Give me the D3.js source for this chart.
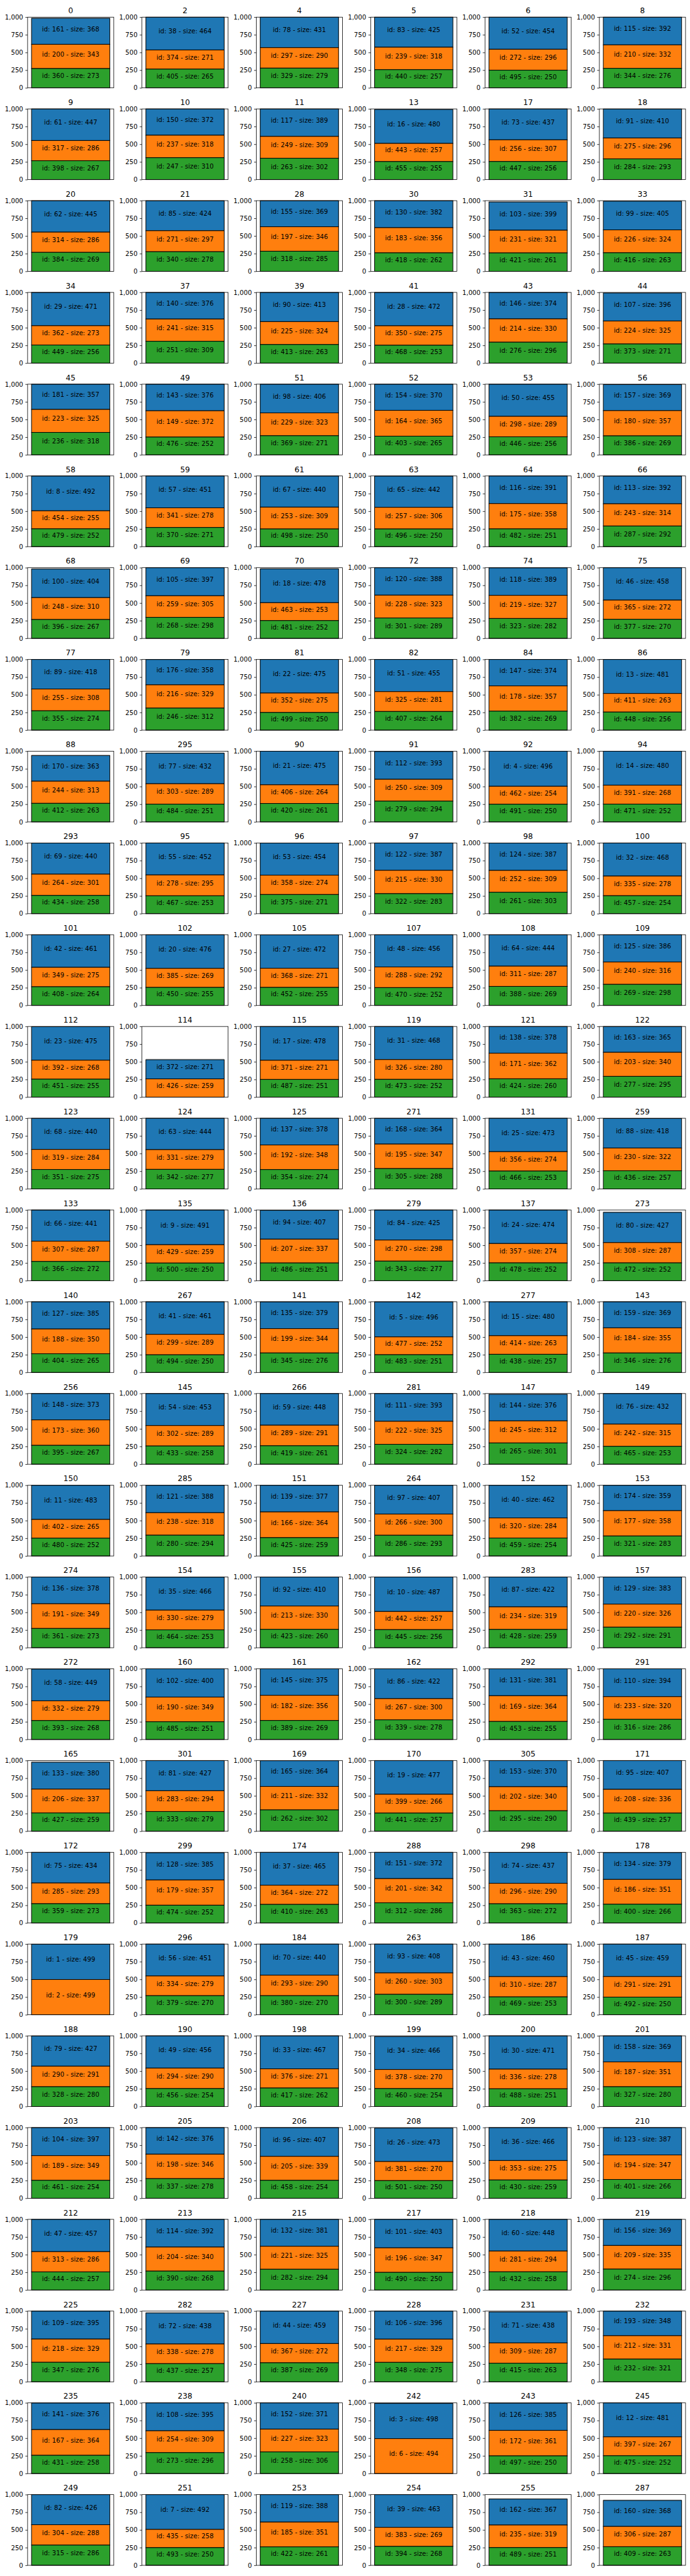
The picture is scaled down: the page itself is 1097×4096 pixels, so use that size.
<!DOCTYPE html>
<html><head><meta charset="utf-8">
<script src="https://cdn.jsdelivr.net/npm/d3@7"></script>
<style>body{margin:0;background:#fff}svg{display:block}</style></head>
<body><script>
const panelTitles = [0,2,4,5,6,8, 9,10,11,13,17,18, 20,21,28,30,31,33, 34,37,39,41,43,44, 45,49,51,52,53,56, 58,59,61,63,64,66, 68,69,70,72,74,75, 77,79,81,82,84,86, 88,295,90,91,92,94, 293,95,96,97,98,100, 101,102,105,107,108,109, 112,114,115,119,121,122, 123,124,125,271,131,259, 133,135,136,279,137,273, 140,267,141,142,277,143, 256,145,266,281,147,149, 150,285,151,264,152,153, 274,154,155,156,283,157, 272,160,161,162,292,291, 165,301,169,170,305,171, 172,299,174,288,298,178, 179,296,184,263,186,187, 188,190,198,199,200,201, 203,205,206,208,209,210, 212,213,215,217,218,219, 225,282,227,228,231,232, 235,238,240,242,243,245, 249,251,253,254,255,287];

const blockIds = [
[161,200,360],[38,374,405],[78,297,329],[83,239,440],[52,272,495],[115,210,344],
[61,317,398],[150,237,247],[117,249,263],[16,443,455],[73,256,447],[91,275,284],
[62,314,384],[85,271,340],[155,197,318],[130,183,418],[103,231,421],[99,226,416],
[29,362,449],[140,241,251],[90,225,413],[28,350,468],[146,214,276],[107,224,373],
[181,223,236],[143,149,476],[98,229,369],[154,164,403],[50,298,446],[157,180,386],
[8,454,479],[57,341,370],[67,253,498],[65,257,496],[116,175,482],[113,243,287],
[100,248,396],[105,259,268],[18,463,481],[120,228,301],[118,219,323],[46,365,377],
[89,255,355],[176,216,246],[22,352,499],[51,325,407],[147,178,382],[13,411,448],
[170,244,412],[77,303,484],[21,406,420],[112,250,279],[4,462,491],[14,391,471],
[69,264,434],[55,278,467],[53,358,375],[122,215,322],[124,252,261],[32,335,457],
[42,349,408],[20,385,450],[27,368,452],[48,288,470],[64,311,388],[125,240,269],
[23,392,451],[372,426],[17,371,487],[31,326,473],[138,171,424],[163,203,277],
[68,319,351],[63,331,342],[137,192,354],[168,195,305],[25,356,466],[88,230,436],
[66,307,366],[9,429,500],[94,207,486],[84,270,343],[24,357,478],[80,308,472],
[127,188,404],[41,299,494],[135,199,345],[5,477,483],[15,414,438],[159,184,346],
[148,173,395],[54,302,433],[59,289,419],[111,222,324],[144,245,265],[76,242,465],
[11,402,480],[121,238,280],[139,166,425],[97,266,286],[40,320,459],[174,177,321],
[136,191,361],[35,330,464],[92,213,423],[10,442,445],[87,234,428],[129,220,292],
[58,332,393],[102,190,485],[145,182,389],[86,267,339],[131,169,453],[110,233,316],
[133,206,427],[81,283,333],[165,211,262],[19,399,441],[153,202,295],[95,208,439],
[75,285,359],[128,179,474],[37,364,410],[151,201,312],[74,296,363],[134,186,400],
[1,2],[56,334,379],[70,293,380],[93,260,300],[43,310,469],[45,291,492],
[79,290,328],[49,294,456],[33,376,417],[34,378,460],[30,336,488],[158,187,327],
[104,189,461],[142,198,337],[96,205,458],[26,381,501],[36,353,430],[123,194,401],
[47,313,444],[114,204,390],[132,221,282],[101,196,490],[60,281,432],[156,209,274],
[109,218,347],[72,338,437],[44,367,387],[106,217,348],[71,309,415],[193,212,232],
[141,167,431],[108,254,273],[152,227,258],[3,6],[126,172,497],[12,397,475],
[82,304,315],[7,435,493],[119,185,422],[39,383,394],[162,235,489],[160,306,409]
];

const blockSizes = [
[368,343,273],[464,271,265],[431,290,279],[425,318,257],[454,296,250],[392,332,276],
[447,286,267],[372,318,310],[389,309,302],[480,257,255],[437,307,256],[410,296,293],
[445,286,269],[424,297,278],[369,346,285],[382,356,262],[399,321,261],[405,324,263],
[471,273,256],[376,315,309],[413,324,263],[472,275,253],[374,330,296],[396,325,271],
[357,325,318],[376,372,252],[406,323,271],[370,365,265],[455,289,256],[369,357,269],
[492,255,252],[451,278,271],[440,309,250],[442,306,250],[391,358,251],[392,314,292],
[404,310,267],[397,305,298],[478,253,252],[388,323,289],[389,327,282],[458,272,270],
[418,308,274],[358,329,312],[475,275,250],[455,281,264],[374,357,269],[481,263,256],
[363,313,263],[432,289,251],[475,264,261],[393,309,294],[496,254,250],[480,268,252],
[440,301,258],[452,295,253],[454,274,271],[387,330,283],[387,309,303],[468,278,254],
[461,275,264],[476,269,255],[472,271,255],[456,292,252],[444,287,269],[386,316,298],
[475,268,255],[271,259],[478,271,251],[468,280,252],[378,362,260],[365,340,295],
[440,284,275],[444,279,277],[378,348,274],[364,347,288],[473,274,253],[418,322,257],
[441,287,272],[491,259,250],[407,337,251],[425,298,277],[474,274,252],[427,287,252],
[385,350,265],[461,289,250],[379,344,276],[496,252,251],[480,263,257],[369,355,276],
[373,360,267],[453,289,258],[448,291,261],[393,325,282],[376,312,301],[432,315,253],
[483,265,252],[388,318,294],[377,364,259],[407,300,293],[462,284,254],[359,358,283],
[378,349,273],[466,279,253],[410,330,260],[487,257,256],[422,319,259],[383,326,291],
[449,279,268],[400,349,251],[375,356,269],[422,300,278],[381,364,255],[394,320,286],
[380,337,259],[427,294,279],[364,332,302],[477,266,257],[370,340,290],[407,336,257],
[434,293,273],[385,357,252],[465,272,263],[372,342,286],[437,290,272],[379,351,266],
[499,499],[451,279,270],[440,290,270],[408,303,289],[460,287,253],[459,291,250],
[427,291,280],[456,290,254],[467,271,262],[466,270,254],[471,278,251],[369,351,280],
[397,349,254],[376,346,278],[407,339,254],[473,270,250],[466,275,259],[387,347,266],
[457,286,257],[392,340,268],[381,325,294],[403,347,250],[448,294,258],[369,335,296],
[395,329,276],[438,278,257],[459,272,269],[396,329,275],[438,287,263],[348,331,321],
[376,364,258],[395,309,296],[371,323,306],[498,494],[385,361,250],[481,267,252],
[426,288,286],[492,258,250],[388,351,261],[463,269,268],[367,319,251],[368,287,263]
];

const yTickValues = [0, 250, 500, 750, 1000];
const blockColors = ["#1f77b4", "#ff7f0e", "#2ca02c"];

// ---- layout (reference pixel units, scaled at the root) ----
const S = 1097 / 1500;
const FONT = "DejaVu Sans";
const nCols = 6;
const colLeft0 = 60, colPitch = 248.6, axW = 187.3;
const rowTop0 = 37.3, rowPitch = 199.5, axH = 153.7;

const svg = d3.select("body").append("svg")
  .attr("width", 1097).attr("height", 4096)
  .style("background", "#fff");
const root = svg.append("g").attr("transform", `scale(${S})`);

const y = d3.scaleLinear().domain([0, 1000]).range([axH, 0]);
const x = d3.scaleLinear().domain([-0.44, 0.44]).range([0, axW]);

panelTitles.forEach((title, i) => {
  const r = Math.floor(i / nCols), c = i % nCols;
  const g = root.append("g")
    .attr("transform", `translate(${colLeft0 + c * colPitch},${rowTop0 + r * rowPitch})`);

  const ids = blockIds[i], sizes = blockSizes[i];
  const blocks = [];
  let base = 0;
  for (let k = sizes.length - 1; k >= 0; k--) {
    blocks.unshift({ id: ids[k], size: sizes[k], y0: base, y1: base + sizes[k], color: blockColors[k] });
    base += sizes[k];
  }
  const total = base;

  // faint grey cap above the stack
  if (total < 1000) {
    const capTop = Math.min(1000, total + 14);
    g.append("rect")
      .attr("x", x(-0.4)).attr("width", x(0.4) - x(-0.4))
      .attr("y", y(capTop)).attr("height", y(total) - y(capTop))
      .attr("fill", "#d0d0d0");
  }

  g.selectAll("rect.blk").data(blocks).enter().append("rect")
    .attr("class", "blk")
    .attr("x", x(-0.4)).attr("width", x(0.4) - x(-0.4))
    .attr("y", d => y(Math.min(1000, d.y1)))
    .attr("height", d => y(d.y0) - y(Math.min(1000, d.y1)))
    .attr("fill", d => d.color)
    .attr("stroke", "#000").attr("stroke-width", 1.39);

  g.selectAll("text.lbl").data(blocks).enter().append("text")
    .attr("class", "lbl")
    .attr("x", x(0)).attr("y", d => y((d.y0 + d.y1) / 2))
    .attr("text-anchor", "middle")
    .attr("font-family", FONT).attr("font-size", 13.89)
    .attr("fill", "#000")
    .text(d => `id: ${d.id} - size: ${d.size}`);

  const ax = g.append("g").call(
    d3.axisLeft(y).tickValues(yTickValues).tickSize(4.86).tickPadding(4.86)
  );
  ax.select(".domain").remove();
  ax.attr("font-family", FONT).attr("font-size", 13.89);
  ax.selectAll(".tick line").attr("stroke", "#000").attr("stroke-width", 1.11);
  ax.selectAll(".tick text").attr("fill", "#000");

  g.append("rect")
    .attr("x", 0).attr("y", 0).attr("width", axW).attr("height", axH)
    .attr("fill", "none").attr("stroke", "#000").attr("stroke-width", 1.11);

  g.append("text")
    .attr("x", axW / 2).attr("y", -8.6)
    .attr("text-anchor", "middle")
    .attr("font-family", FONT).attr("font-size", 16.67)
    .attr("fill", "#000")
    .text(title);
});
</script></body></html>
